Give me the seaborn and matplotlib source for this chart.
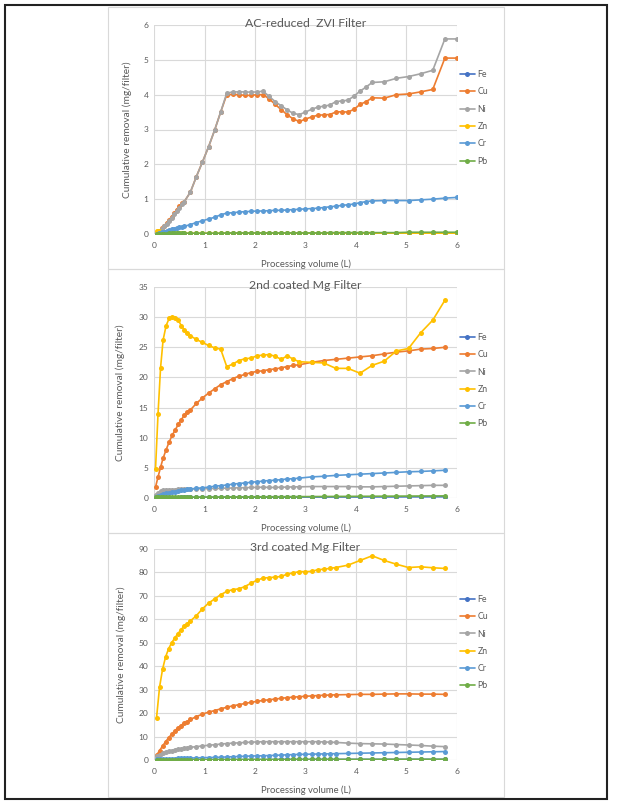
import matplotlib
matplotlib.use('Agg')
import matplotlib.pyplot as plt
from matplotlib.patches import Rectangle
import seaborn as sns

metals = ['Fe', 'Cu', 'Ni', 'Zn', 'Cr', 'Pb']
colors = ['#4472C4', '#ED7D31', '#A5A5A5', '#FFC000', '#5B9BD5', '#70AD47']

# ---- AC-reduced ZVI Filter ----
x1 = [0.05, 0.10, 0.15, 0.20, 0.25, 0.30, 0.35, 0.40, 0.45, 0.50, 0.55, 0.60,
      0.72, 0.84, 0.96, 1.08, 1.20, 1.32, 1.44, 1.56, 1.68, 1.80, 1.92, 2.04, 2.16, 2.28, 2.40,
      2.52, 2.64, 2.76, 2.88, 3.00, 3.12, 3.24, 3.36, 3.48, 3.60, 3.72, 3.84, 3.96, 4.08, 4.20, 4.32,
      4.56, 4.80, 5.04, 5.28, 5.52, 5.76, 6.00]
fe1 = [0.00, 0.00, 0.01, 0.01, 0.01, 0.01, 0.01, 0.01, 0.01, 0.01, 0.01, 0.01,
       0.01, 0.01, 0.01, 0.01, 0.01, 0.01, 0.02, 0.02, 0.02, 0.02, 0.02, 0.02, 0.02, 0.02, 0.02,
       0.02, 0.02, 0.02, 0.02, 0.02, 0.02, 0.02, 0.02, 0.02, 0.02, 0.02, 0.02, 0.02, 0.03, 0.03, 0.03,
       0.03, 0.03, 0.03, 0.03, 0.03, 0.03, 0.03]
cu1 = [0.03, 0.09, 0.16, 0.24, 0.32, 0.41, 0.50, 0.60, 0.70, 0.80, 0.88, 0.93,
       1.20, 1.65, 2.07, 2.50, 2.98, 3.50, 4.00, 4.01, 4.00, 3.98, 3.98, 4.00, 4.00, 3.88, 3.72,
       3.57, 3.42, 3.30, 3.23, 3.30, 3.36, 3.41, 3.42, 3.43, 3.50, 3.51, 3.50, 3.58, 3.72, 3.80, 3.91,
       3.90, 4.00, 4.02, 4.08, 4.15, 5.05, 5.05]
ni1 = [0.02, 0.08, 0.15, 0.22, 0.30, 0.38, 0.47, 0.56, 0.66, 0.76, 0.85, 0.93,
       1.20, 1.65, 2.07, 2.50, 2.98, 3.50, 4.04, 4.08, 4.08, 4.08, 4.07, 4.08, 4.10, 3.95, 3.80,
       3.68, 3.56, 3.46, 3.43, 3.50, 3.58, 3.64, 3.67, 3.70, 3.80, 3.82, 3.84, 3.96, 4.10, 4.22, 4.35,
       4.37, 4.47, 4.52, 4.60, 4.70, 5.60, 5.60]
zn1 = [0.10, 0.08, 0.06, 0.05, 0.04, 0.03, 0.03, 0.02, 0.02, 0.02, 0.02, 0.02,
       0.02, 0.02, 0.02, 0.02, 0.02, 0.02, 0.02, 0.02, 0.02, 0.02, 0.02, 0.02, 0.02, 0.02, 0.02,
       0.02, 0.02, 0.02, 0.02, 0.02, 0.02, 0.02, 0.02, 0.02, 0.02, 0.02, 0.02, 0.02, 0.02, 0.02, 0.02,
       0.02, 0.02, 0.02, 0.02, 0.02, 0.02, 0.02]
cr1 = [0.01, 0.03, 0.05, 0.07, 0.09, 0.11, 0.13, 0.15, 0.17, 0.19, 0.21, 0.22,
       0.27, 0.33, 0.38, 0.43, 0.48, 0.55, 0.60, 0.61, 0.63, 0.64, 0.65, 0.66, 0.66, 0.67, 0.68,
       0.68, 0.69, 0.70, 0.71, 0.72, 0.73, 0.74, 0.76, 0.78, 0.80, 0.82, 0.84, 0.86, 0.90, 0.93, 0.95,
       0.96, 0.96, 0.96, 0.98, 1.00, 1.03, 1.05]
pb1 = [0.01, 0.01, 0.01, 0.01, 0.01, 0.02, 0.02, 0.02, 0.02, 0.02, 0.02, 0.02,
       0.02, 0.02, 0.02, 0.02, 0.02, 0.02, 0.03, 0.03, 0.03, 0.03, 0.03, 0.03, 0.03, 0.03, 0.03,
       0.03, 0.03, 0.03, 0.03, 0.03, 0.03, 0.03, 0.03, 0.04, 0.04, 0.04, 0.04, 0.04, 0.04, 0.04, 0.04,
       0.04, 0.04, 0.05, 0.05, 0.05, 0.05, 0.05]

# ---- 2nd coated Mg Filter ----
x2 = [0.03, 0.08, 0.13, 0.18, 0.24, 0.30, 0.36, 0.42, 0.48, 0.54, 0.60, 0.66, 0.72,
      0.84, 0.96, 1.08, 1.20, 1.32, 1.44, 1.56, 1.68, 1.80, 1.92, 2.04, 2.16, 2.28, 2.40,
      2.52, 2.64, 2.76, 2.88,
      3.12, 3.36, 3.60, 3.84, 4.08, 4.32, 4.56, 4.80, 5.04, 5.28, 5.52, 5.76]
fe2 = [0.05, 0.05, 0.06, 0.06, 0.07, 0.07, 0.08, 0.08, 0.08, 0.09, 0.09, 0.09, 0.10,
       0.10, 0.10, 0.11, 0.11, 0.11, 0.12, 0.12, 0.12, 0.13, 0.13, 0.13, 0.14, 0.14, 0.14,
       0.15, 0.15, 0.15, 0.16,
       0.16, 0.16, 0.17, 0.17, 0.17, 0.18, 0.18, 0.18, 0.19, 0.19, 0.20, 0.20]
cu2 = [1.8, 3.5, 5.1, 6.6, 8.0, 9.3, 10.4, 11.3, 12.2, 13.0, 13.7, 14.2, 14.6,
       15.7, 16.6, 17.4, 18.1, 18.8, 19.3, 19.8, 20.2, 20.5, 20.8, 21.0, 21.1, 21.3, 21.4,
       21.6, 21.8, 22.0, 22.1,
       22.5, 22.8, 23.0, 23.2, 23.4, 23.6, 23.9, 24.2, 24.4, 24.7, 24.8, 25.0]
ni2 = [0.5, 0.9, 1.15, 1.3, 1.4, 1.4, 1.4, 1.4, 1.45, 1.45, 1.45, 1.5, 1.5,
       1.5, 1.55, 1.55, 1.6, 1.6, 1.65, 1.65, 1.7, 1.7, 1.75, 1.75, 1.8, 1.75, 1.75,
       1.8, 1.8, 1.85, 1.85,
       1.9, 1.9, 1.9, 1.9, 1.85, 1.85, 1.9, 1.95, 2.0, 2.05, 2.1, 2.1]
zn2 = [4.8, 14.0, 21.6, 26.2, 28.6, 29.8, 30.1, 29.9, 29.5, 28.6, 27.9, 27.4, 26.9,
       26.3, 25.8, 25.3, 24.9, 24.7, 21.8, 22.2, 22.8, 23.1, 23.2, 23.6, 23.7, 23.8, 23.5,
       23.0, 23.6, 23.0, 22.6,
       22.5, 22.4, 21.5, 21.5, 20.7, 22.0, 22.7, 24.4, 24.8, 27.4, 29.5, 32.8]
cr2 = [0.2, 0.35, 0.5, 0.6, 0.75, 0.85, 0.95, 1.05, 1.15, 1.25, 1.35, 1.45, 1.5,
       1.6, 1.7, 1.8, 1.95, 2.05, 2.15, 2.3, 2.4, 2.5, 2.6, 2.7, 2.8, 2.9, 2.95,
       3.05, 3.15, 3.2, 3.3,
       3.5, 3.6, 3.75, 3.85, 3.95, 4.05, 4.15, 4.25, 4.35, 4.4, 4.5, 4.6]
pb2 = [0.10, 0.10, 0.11, 0.11, 0.12, 0.12, 0.12, 0.13, 0.13, 0.13, 0.14, 0.14, 0.14,
       0.15, 0.15, 0.16, 0.16, 0.17, 0.17, 0.18, 0.18, 0.19, 0.19, 0.20, 0.20, 0.21, 0.21,
       0.22, 0.22, 0.23, 0.23,
       0.24, 0.25, 0.26, 0.27, 0.28, 0.29, 0.30, 0.31, 0.32, 0.33, 0.34, 0.35]

# ---- 3rd coated Mg Filter ----
x3 = [0.05, 0.11, 0.17, 0.23, 0.29, 0.35, 0.41, 0.47, 0.53, 0.59, 0.65, 0.72,
      0.84, 0.96, 1.08, 1.20, 1.32, 1.44, 1.56, 1.68, 1.80, 1.92, 2.04, 2.16,
      2.28, 2.40, 2.52, 2.64, 2.76, 2.88, 3.00, 3.12, 3.24, 3.36, 3.48, 3.60,
      3.84, 4.08, 4.32, 4.56, 4.80, 5.04, 5.28, 5.52, 5.76]
fe3 = [0.10, 0.10, 0.11, 0.11, 0.12, 0.12, 0.12, 0.13, 0.13, 0.13, 0.14, 0.14,
       0.15, 0.15, 0.16, 0.16, 0.17, 0.17, 0.18, 0.18, 0.19, 0.19, 0.20, 0.20,
       0.21, 0.21, 0.22, 0.22, 0.23, 0.23, 0.24, 0.24, 0.25, 0.25, 0.26, 0.26,
       0.27, 0.28, 0.28, 0.29, 0.29, 0.30, 0.30, 0.30, 0.30]
cu3 = [2.0, 4.0, 6.0, 7.8, 9.5, 11.0, 12.4, 13.6, 14.7, 15.6, 16.4, 17.3,
       18.5, 19.6, 20.4, 21.1, 21.8, 22.5, 23.1, 23.6, 24.1, 24.6, 25.0, 25.4,
       25.7, 26.0, 26.3, 26.6, 26.8, 27.0, 27.2, 27.3, 27.5, 27.6, 27.7, 27.8,
       27.9, 28.0, 28.0, 28.1, 28.2, 28.2, 28.1, 28.1, 28.0]
ni3 = [1.5, 2.3, 2.9, 3.3, 3.7, 4.0, 4.3, 4.6, 4.8, 5.0, 5.2, 5.4,
       5.7, 6.0, 6.3, 6.5, 6.8, 7.0, 7.2, 7.3, 7.5, 7.6, 7.7, 7.8,
       7.8, 7.8, 7.8, 7.8, 7.8, 7.8, 7.8, 7.8, 7.8, 7.7, 7.6, 7.5,
       7.2, 7.0, 6.9, 6.8, 6.6, 6.4, 6.2, 5.9, 5.7]
zn3 = [17.9, 31.1, 38.8, 44.0, 47.5, 50.0, 52.0, 53.8, 55.4, 57.0, 58.0, 59.3,
       61.6, 64.5, 66.9, 68.7, 70.5, 71.9, 72.7, 73.0, 74.0, 75.4, 76.7, 77.6,
       77.8, 78.0, 78.3, 79.3, 79.8, 80.4, 80.3, 80.5, 81.1, 81.4, 81.7, 82.1,
       83.1, 85.1, 87.1, 85.1, 83.5, 82.1, 82.4, 82.0, 81.7]
cr3 = [0.30, 0.35, 0.40, 0.45, 0.50, 0.55, 0.60, 0.65, 0.70, 0.75, 0.80, 0.85,
       0.90, 1.00, 1.05, 1.10, 1.20, 1.30, 1.40, 1.50, 1.60, 1.70, 1.75, 1.80,
       1.90, 2.00, 2.10, 2.20, 2.30, 2.40, 2.45, 2.50, 2.55, 2.60, 2.65, 2.70,
       2.80, 2.90, 3.00, 3.10, 3.20, 3.30, 3.40, 3.50, 3.60]
pb3 = [0.10, 0.10, 0.10, 0.11, 0.11, 0.11, 0.12, 0.12, 0.12, 0.13, 0.13, 0.13,
       0.14, 0.14, 0.15, 0.15, 0.16, 0.16, 0.17, 0.17, 0.18, 0.18, 0.19, 0.19,
       0.20, 0.20, 0.21, 0.21, 0.22, 0.22, 0.23, 0.23, 0.24, 0.24, 0.25, 0.25,
       0.26, 0.27, 0.27, 0.28, 0.28, 0.29, 0.29, 0.30, 0.30]

panels = [
    ('AC-reduced  ZVI Filter', x1, [fe1, cu1, ni1, zn1, cr1, pb1], [0, 1, 2, 3, 4, 5, 6]),
    ('2nd coated Mg Filter', x2, [fe2, cu2, ni2, zn2, cr2, pb2], [0, 5, 10, 15, 20, 25, 30, 35]),
    ('3rd coated Mg Filter', x3, [fe3, cu3, ni3, zn3, cr3, pb3], [0, 10, 20, 30, 40, 50, 60, 70, 80, 90]),
]

sns.set_style('white')
plt.rcParams['font.family'] = ['Lato', 'DejaVu Sans']

W, H = 617, 807
fig = plt.figure(figsize=(W / 100, H / 100), dpi=100)

# pixel layout of the three panels: (axes top, axes bottom, panel top, panel bottom, ylabel x)
layout = [(25, 234, 7, 269, 132), (287, 498, 269, 533, 125), (549, 760, 533, 797, 126)]
ax_left, ax_right = 154, 457
text_col = '#595959'

for (title, xs, series, yticks), (top, bot, ptop, pbot, ylx) in zip(panels, layout):
    ax = fig.add_axes([ax_left / W, 1 - bot / H, (ax_right - ax_left) / W, (bot - top) / H])
    for metal, col, ys in zip(metals, colors, series):
        sns.lineplot(x=xs, y=ys, ax=ax, color=col, marker='o', markersize=3.6,
                     markeredgewidth=0, linewidth=1.2, label=metal, sort=False,
                     estimator=None)
    ax.set_xlim(0, 6)
    ax.set_ylim(yticks[0], yticks[-1])
    ax.set_xticks([0, 1, 2, 3, 4, 5, 6])
    ax.set_yticks(yticks)
    ax.grid(True, color='#D9D9D9', linewidth=0.8)
    ax.set_axisbelow(True)
    for s in ax.spines.values():
        s.set_visible(False)
    ax.tick_params(length=0, labelsize=6, colors=text_col)
    ax.tick_params(axis='x', pad=6)
    ax.tick_params(axis='y', pad=4)
    ax.set_xlabel('Processing volume (L)', fontsize=6.8, color=text_col)
    ax.set_ylabel('Cumulative removal (mg/filter)', fontsize=7.3, color=text_col)
    ax.xaxis.set_label_coords(0.5, -25 / (bot - top))
    ax.yaxis.set_label_coords((ylx - ax_left) / (ax_right - ax_left), 0.5)
    ax.text(0.5, 1.0 + 1.5 / (bot - top), title, transform=ax.transAxes, ha='center',
            va='center', fontsize=8.8, color=text_col)
    handles, labels = ax.get_legend_handles_labels()
    ax.legend(handles, labels, loc='center left', bbox_to_anchor=(1.01, 0.556),
              frameon=False, fontsize=6.3, labelcolor=text_col, handlelength=1.7,
              handletextpad=0.3, labelspacing=0.95, borderpad=0, borderaxespad=0)
    fig.add_artist(Rectangle((108 / W, 1 - pbot / H), (504 - 108) / W, (pbot - ptop) / H,
                             transform=fig.transFigure, fill=False, edgecolor='#D9D9D9',
                             linewidth=0.8))

# outer frame
fig.add_artist(Rectangle((5 / W, 1 - 799 / H), (607 - 5) / W, (799 - 5) / H,
                         transform=fig.transFigure, fill=False, edgecolor='#222222',
                         linewidth=1.5))

fig.savefig('out.png', dpi=100)
